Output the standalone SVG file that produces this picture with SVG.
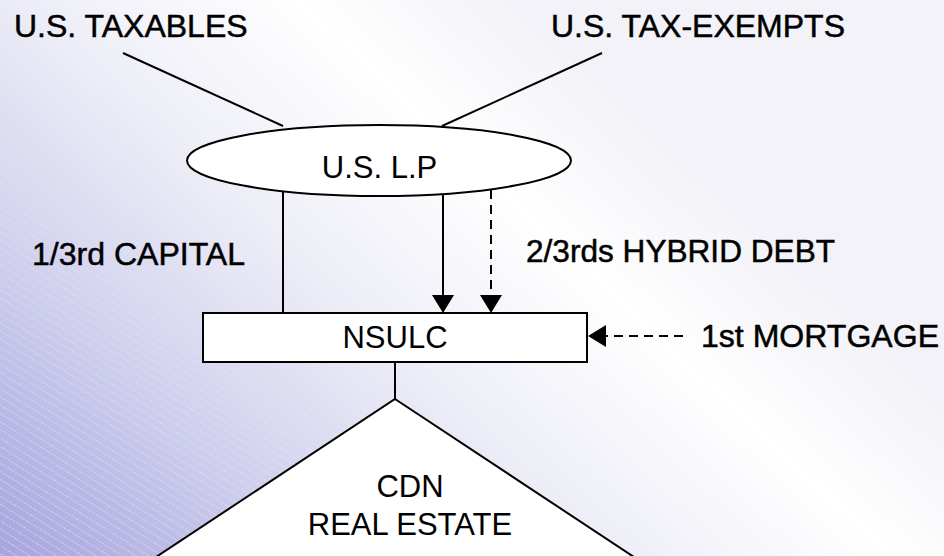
<svg xmlns="http://www.w3.org/2000/svg" width="944" height="556" viewBox="0 0 944 556">
  <defs>
    <linearGradient id="bg" x1="0" y1="556" x2="520" y2="0" gradientUnits="userSpaceOnUse">
      <stop offset="0" stop-color="#a6a4de"/>
      <stop offset="0.3" stop-color="#d0d0ee"/>
      <stop offset="0.55" stop-color="#ededf7"/>
      <stop offset="0.8" stop-color="#ffffff"/>
      <stop offset="1" stop-color="#f2f2f8"/>
    </linearGradient>
    <linearGradient id="fade" x1="0" y1="556" x2="420" y2="0" gradientUnits="userSpaceOnUse">
      <stop offset="0" stop-color="#ffffff"/>
      <stop offset="0.7" stop-color="#000000"/>
    </linearGradient>
    <mask id="stripeMask">
      <rect width="944" height="556" fill="url(#fade)"/>
    </mask>
    <pattern id="stripes" width="20" height="7" patternUnits="userSpaceOnUse" patternTransform="rotate(32)">
      <line x1="0" y1="0.5" x2="20" y2="0.5" stroke="#ffffff" stroke-width="1" stroke-dasharray="2,1.5"/>
    </pattern>
    <path id="ah" d="M0,0 L-11,-18 L11,-18 z" fill="#000"/>
    <style>
      .lbl { font-family: "Liberation Sans", Arial, sans-serif; font-size: 32px; fill: #000; stroke: #000; stroke-width: 0.5; }
      .in { font-family: "Liberation Sans", Arial, sans-serif; font-size: 31px; fill: #000; text-anchor: middle; }
      .shape { fill: #ffffff; stroke: #000; stroke-width: 2; }
      .conn { stroke: #000; stroke-width: 2; fill: none; }
      .dash { stroke-dasharray: 9,6; }
    </style>
  </defs>

  <rect width="944" height="556" fill="url(#bg)"/>
  <rect width="944" height="556" fill="url(#stripes)" mask="url(#stripeMask)" opacity="0.5"/>

  <g id="labels">
    <text class="lbl" x="14" y="37">U.S. TAXABLES</text>
    <text class="lbl" x="551" y="37">U.S. TAX-EXEMPTS</text>
    <text class="lbl" x="32" y="265" textLength="213" lengthAdjust="spacingAndGlyphs">1/3rd CAPITAL</text>
    <text class="lbl" x="526" y="262" textLength="309" lengthAdjust="spacingAndGlyphs">2/3rds HYBRID DEBT</text>
    <text class="lbl" x="701" y="347" textLength="238" lengthAdjust="spacingAndGlyphs">1st MORTGAGE</text>
  </g>

  <g id="cdn">
    <polygon class="shape" points="395,399 640,561 150,561"/>
    <text class="in" x="410" y="497">CDN</text>
    <text class="in" x="410" y="535">REAL ESTATE</text>
  </g>

  <g id="uslp">
    <ellipse class="shape" cx="379" cy="160.5" rx="192" ry="35.5"/>
    <text class="in" x="379.5" y="178">U.S. L.P</text>
  </g>

  <g id="nsulc">
    <rect class="shape" x="203" y="313" width="384" height="49"/>
    <text class="in" x="395" y="348">NSULC</text>
  </g>

  <g id="connectors">
    <line class="conn" x1="123" y1="53" x2="283" y2="126"/>
    <line class="conn" x1="602" y1="53" x2="442" y2="126"/>
    <line class="conn" x1="283" y1="192" x2="283" y2="313"/>
    <line class="conn" x1="443" y1="195" x2="443" y2="297"/>
    <use href="#ah" transform="translate(443,313)"/>
    <line class="conn dash" x1="491" y1="190" x2="491" y2="297"/>
    <use href="#ah" transform="translate(491,313)"/>
    <line class="conn dash" x1="683" y1="336" x2="604" y2="336"/>
    <use href="#ah" transform="translate(588,336) rotate(90)"/>
    <line class="conn" x1="395" y1="362" x2="395" y2="399"/>
  </g>
</svg>
